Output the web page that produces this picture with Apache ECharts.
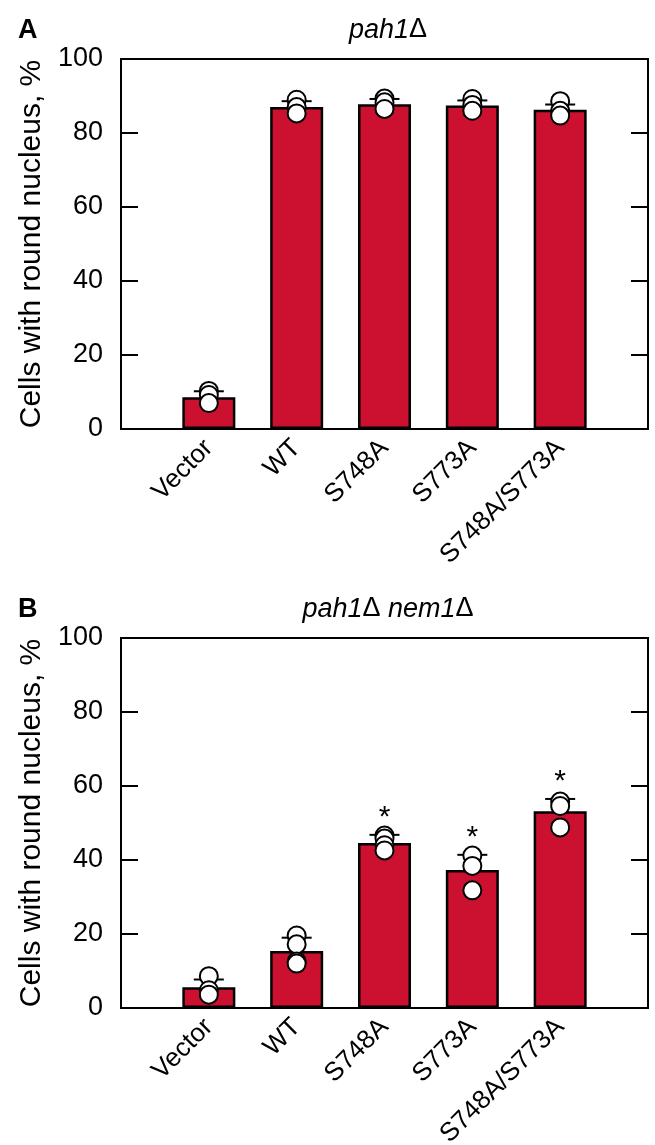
<!DOCTYPE html>
<html>
<head>
<meta charset="utf-8">
<script src="https://cdn.jsdelivr.net/npm/echarts@6/dist/echarts.min.js"></script>
<style>
  html, body { margin: 0; padding: 0; background: #fff; }
  #chart { width: 655px; height: 1145px; }
</style>
</head>
<body>
<div id="chart"></div>
<script>
  // categories and values
  const categories = ['Vector', 'WT', 'S748A', 'S773A', 'S748A/S773A'];
  // rich-text titles: italic gene names, upright delta
  const titles = ['{i|pah1}{n|\u0394}', '{i|pah1}{n|\u0394}{i| nem1}{n|\u0394}'];
  const panelLetters = ['A', 'B'];

  // panel A: pah1Δ
  const meanA = [8.6, 87.0, 87.8, 87.4, 86.3];
  const sdA = [1.6, 1.6, 1.4, 1.4, 1.4];
  const pointsA = [
    [10.3, 9.2, 7.0],
    [89.0, 87.0, 85.3],
    [89.3, 88.3, 86.5],
    [89.2, 87.6, 86.0],
    [88.6, 86.0, 84.7]
  ];
  const starsA = [false, false, false, false, false];

  // panel B: pah1Δ nem1Δ
  const meanB = [5.6, 15.4, 44.6, 37.3, 53.2];
  const sdB = [2.1, 3.6, 2.2, 4.1, 3.3];
  const pointsB = [
    [8.6, 4.8, 3.6],
    [19.6, 17.2, 12.6, 12.0],
    [46.6, 45.8, 44.0, 42.6],
    [41.2, 38.4, 31.8],
    [55.8, 54.6, 48.8]
  ];
  const starsB = [false, false, true, true, true];

  const FONT = 'Liberation Sans, Arial, Helvetica, sans-serif';
  const RED = '#CC1130';

  const panels = [
    {mean: meanA, sd: sdA, points: pointsA, stars: starsA, top: 59},
    {mean: meanB, sd: sdB, points: pointsB, stars: starsB, top: 638}
  ];

  let grid = [], xAxis = [], yAxis = [], series = [], graphic = [];

  panels.forEach((p, k) => {
    grid.push({left: 121, top: p.top, width: 527, height: 370,
      outerBoundsMode: 'none', containLabel: false,
      show: true, borderColor: '#000', borderWidth: 2, backgroundColor: 'transparent'});

    xAxis.push({
      type: 'value', gridIndex: k, min: 0, max: 6, interval: 1,
      axisLine: {show: true, lineStyle: {color: '#000', width: 2}},
      axisTick: {show: false},
      splitLine: {show: false},
      axisLabel: {
        rotate: 45, margin: 15, fontSize: 26, color: '#000', fontFamily: FONT,
        formatter: v => categories[v - 1] || ''
      }
    });

    yAxis.push({
      type: 'value', gridIndex: k, min: 0, max: 100, interval: 20,
      name: 'Cells with round nucleus, %', nameLocation: 'middle', nameGap: 70,
      nameTextStyle: {fontSize: 30, color: '#000', fontFamily: FONT},
      axisLine: {show: true, lineStyle: {color: '#000', width: 2}},
      axisTick: {show: true, inside: true, length: 17, lineStyle: {color: '#000', width: 2}},
      splitLine: {show: false},
      axisLabel: {fontSize: 27, color: '#000', fontFamily: FONT, margin: 18}
    });
    yAxis.push({
      type: 'value', gridIndex: k, min: 0, max: 100, interval: 20, position: 'right',
      axisLine: {show: true, lineStyle: {color: '#000', width: 2}},
      axisTick: {show: true, inside: true, length: 17, lineStyle: {color: '#000', width: 2}},
      splitLine: {show: false},
      axisLabel: {show: false}
    });

    // bars
    series.push({
      type: 'bar', xAxisIndex: k, yAxisIndex: 2 * k, barWidth: 53,
      data: p.mean.map((m, i) => [i + 1, m]),
      itemStyle: {color: RED, borderColor: '#000', borderWidth: 2.5},
      z: 2
    });

    // error bars (upper only) + significance stars
    series.push({
      type: 'custom', xAxisIndex: k, yAxisIndex: 2 * k, z: 3,
      data: p.mean.map((m, i) => [i + 1, m, m + p.sd[i], p.stars[i] ? 1 : 0]),
      renderItem: (params, api) => {
        const base = api.coord([api.value(0), api.value(1)]);
        const hi = api.coord([api.value(0), api.value(2)]);
        const children = [
          {type: 'line', shape: {x1: base[0], y1: base[1], x2: hi[0], y2: hi[1]},
            style: {stroke: '#000', lineWidth: 2}},
          {type: 'line', shape: {x1: hi[0] - 15, y1: hi[1], x2: hi[0] + 15, y2: hi[1]},
            style: {stroke: '#000', lineWidth: 2}}
        ];
        if (api.value(3)) {
          children.push({type: 'text', x: hi[0], y: hi[1] - 17,
            style: {text: '*', fontSize: 30, fontFamily: FONT, fill: '#000',
              textAlign: 'center', textVerticalAlign: 'middle'}});
        }
        return {type: 'group', children: children};
      }
    });

    // individual replicate points
    let pts = [];
    p.points.forEach((arr, i) => arr.forEach(v => pts.push([i + 1, v])));
    series.push({
      type: 'scatter', xAxisIndex: k, yAxisIndex: 2 * k, z: 4,
      symbol: 'circle', symbolSize: 18,
      data: pts,
      itemStyle: {color: '#fff', borderColor: '#000', borderWidth: 2, opacity: 1}
    });

    graphic.push({type: 'text', left: 18, top: p.top - 42,
      style: {text: panelLetters[k], font: 'bold 27px ' + FONT, fill: '#000'}});
    graphic.push({type: 'text', x: 388, y: p.top - 29,
      style: {text: titles[k], textAlign: 'center', textVerticalAlign: 'middle',
        rich: {
          i: {fontSize: 27, fontStyle: 'italic', fontFamily: FONT, fill: '#000', color: '#000'},
          n: {fontSize: 27, fontFamily: FONT, fill: '#000', color: '#000'}
        }}});
  });

  const chart = echarts.init(document.getElementById('chart'), null, {renderer: 'canvas'});
  chart.setOption({
    animation: false,
    backgroundColor: '#fff',
    grid: grid, xAxis: xAxis, yAxis: yAxis, series: series, graphic: graphic
  });
</script>
</body>
</html>
